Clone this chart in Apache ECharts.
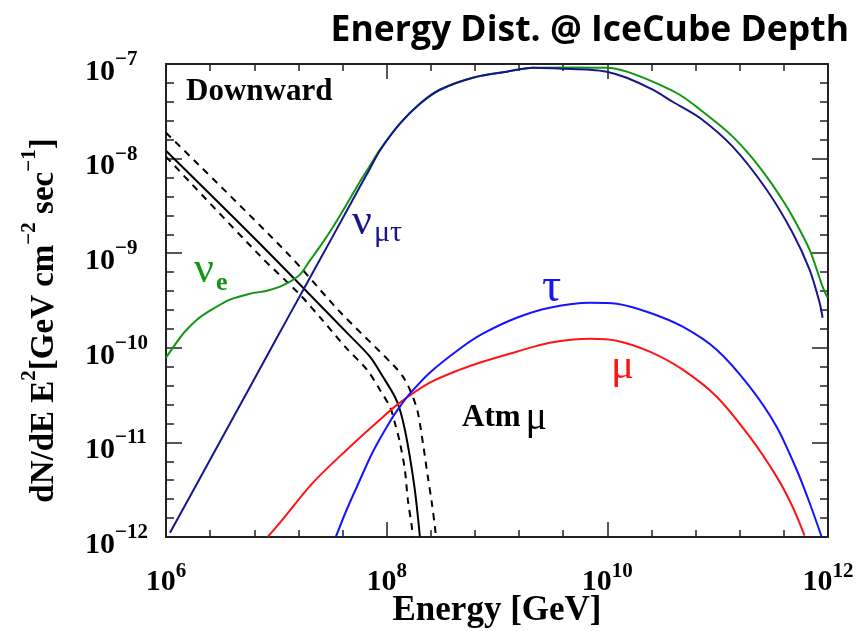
<!DOCTYPE html>
<html>
<head>
<meta charset="utf-8">
<script src="https://cdn.jsdelivr.net/npm/echarts@6/dist/echarts.min.js"></script>
<style>
  html, body { margin: 0; padding: 0; background: #fff; }
  #chart { width: 861px; height: 631px; }
</style>
</head>
<body>
<div id="chart"></div>
<script>
// Energy spectra E^2 dN/dE at IceCube depth (downward-going), log10 units.
// x: log10(Energy / GeV), y: log10(flux / GeV cm^-2 s^-1)

// nu_e
const nueLogE = [6.000, 6.082, 6.172, 6.281, 6.399, 6.580, 6.761, 6.915, 7.033, 7.123, 7.214, 7.304, 7.395, 7.486, 7.576, 7.667, 7.757, 7.848, 7.938, 8.120, 8.301, 8.482, 8.781, 9.089, 9.324, 9.687, 9.995, 10.176, 10.411, 10.656, 10.819, 11.000, 11.136, 11.290, 11.444, 11.589, 11.679, 11.833, 11.951, 11.996];
const nueLogFlux = [-10.104, -9.966, -9.828, -9.703, -9.608, -9.491, -9.428, -9.396, -9.354, -9.301, -9.227, -9.079, -8.931, -8.773, -8.604, -8.424, -8.244, -8.075, -7.906, -7.631, -7.420, -7.272, -7.145, -7.081, -7.039, -7.036, -7.039, -7.081, -7.187, -7.325, -7.462, -7.630, -7.768, -7.960, -8.191, -8.440, -8.614, -8.963, -9.354, -9.470];

// nu_mu + nu_tau
const numutauLogE = [6.036, 6.500, 7.000, 7.241, 7.500, 7.757, 7.848, 7.938, 8.120, 8.301, 8.482, 8.781, 9.089, 9.324, 9.596, 9.841, 9.995, 10.176, 10.411, 10.592, 10.837, 11.136, 11.444, 11.679, 11.833, 11.924, 11.951];
const numutauLogFlux = [-11.955, -10.970, -9.905, -9.394, -8.846, -8.297, -8.107, -7.917, -7.631, -7.420, -7.272, -7.145, -7.081, -7.039, -7.050, -7.060, -7.081, -7.145, -7.272, -7.399, -7.568, -7.874, -8.329, -8.783, -9.174, -9.523, -9.682];

// tau
const tauLogE = [7.540, 7.630, 7.730, 7.875, 8.029, 8.120, 8.210, 8.391, 8.663, 8.871, 9.179, 9.478, 9.841, 10.085, 10.384, 10.683, 10.991, 11.290, 11.534, 11.716, 11.833, 11.942];
const tauLogFlux = [-11.997, -11.733, -11.469, -11.099, -10.781, -10.622, -10.485, -10.263, -10.010, -9.851, -9.682, -9.576, -9.523, -9.534, -9.629, -9.777, -10.020, -10.411, -10.834, -11.289, -11.638, -11.997];

// mu
const muLogE = [6.924, 7.033, 7.332, 7.639, 7.938, 8.120, 8.391, 8.663, 8.871, 9.179, 9.478, 9.841, 10.085, 10.384, 10.683, 10.991, 11.290, 11.534, 11.679, 11.788];
const muLogFlux = [-11.997, -11.849, -11.426, -11.077, -10.760, -10.580, -10.369, -10.231, -10.147, -10.041, -9.946, -9.904, -9.925, -10.041, -10.231, -10.517, -10.940, -11.362, -11.680, -11.986];

// atmospheric muons: central estimate and upper/lower bands
const atmLogE = [6.000, 6.851, 7.639, 7.848, 7.966, 8.074, 8.120, 8.165, 8.210, 8.255, 8.283, 8.301];
const atmLogFlux = [-7.917, -8.900, -9.840, -10.094, -10.306, -10.517, -10.654, -10.866, -11.151, -11.500, -11.786, -11.997];
const atmHiLogE = [6.000, 7.096, 7.576, 8.074, 8.165, 8.237, 8.283, 8.328, 8.373, 8.409, 8.437, 8.446];
const atmHiLogFlux = [-7.726, -8.995, -9.619, -10.200, -10.337, -10.517, -10.686, -11.003, -11.362, -11.637, -11.891, -11.997];
const atmLoLogE = [6.000, 6.851, 7.214, 7.422, 7.639, 7.821, 7.938, 8.029, 8.074, 8.120, 8.165, 8.192, 8.228, 8.237];
const atmLoLogFlux = [-7.980, -9.026, -9.438, -9.713, -10.009, -10.231, -10.443, -10.623, -10.792, -11.003, -11.289, -11.606, -11.891, -11.997];

// axis ranges (decades)
const xDecades = [6, 12];
const yDecades = [-12, -7];

const SERIF = '"Liberation Serif", "Times New Roman", serif';

function zip(xs, ys) { return xs.map((x, i) => [x, ys[i]]); }
function powLabel(v) {
  const exp = v < 0 ? '\u2212' + (-v) : String(v);
  return '{b|10}{s|' + exp + '}';
}
function labelRich(size, sup, pad) {
  return {
    b: { fontFamily: SERIF, fontWeight: 'bold', fontSize: size, lineHeight: size, padding: [pad, 0, 0, 0], color: '#000' },
    s: { fontFamily: SERIF, fontWeight: 'bold', fontSize: sup, lineHeight: sup, verticalAlign: 'top', color: '#000' }
  };
}
const frameLine = { show: true, lineStyle: { color: '#222', width: 2 } };
const tickStyle = { color: '#222', width: 1.5 };

function lineSeries(xs, ys, color, dashed) {
  return {
    type: 'line', data: zip(xs, ys), showSymbol: false, smooth: 0.3,
    lineStyle: { color: color, width: 2, type: dashed ? [7, 6] : 'solid' },
    xAxisIndex: 0, yAxisIndex: 0, silent: true, animation: false, clip: true
  };
}

const chart = echarts.init(document.getElementById('chart'), null, { renderer: 'canvas' });
chart.setOption({
  backgroundColor: '#fff',
  animation: false,
  title: {
    text: 'Energy Dist. @ IceCube Depth',
    right: 7, top: 8,
    textStyle: { fontFamily: '"Open Sans", sans-serif', fontWeight: 'bold', fontSize: 35.5, color: '#000' }
  },
  grid: { left: 166, right: 33, top: 64, bottom: 94, containLabel: false, outerBoundsMode: 'none' },
  xAxis: [{
    type: 'value', min: xDecades[0], max: xDecades[1], interval: 2, position: 'bottom',
    axisLine: frameLine,
    axisTick: { show: true, inside: true, length: 15, lineStyle: tickStyle },
    minorTick: { show: true, splitNumber: 5, length: 7, lineStyle: tickStyle },
    splitLine: { show: false },
    axisLabel: { formatter: powLabel, rich: labelRich(30, 21, 13), margin: 24 },
    name: 'Energy [GeV]', nameLocation: 'middle', nameGap: 56, nameMoveOverlap: false,
    nameTextStyle: { fontFamily: SERIF, fontWeight: 'bold', fontSize: 35, lineHeight: 35, color: '#000' }
  }, {
    type: 'value', min: xDecades[0], max: xDecades[1], interval: 2, position: 'top',
    axisLine: frameLine,
    axisTick: { show: true, inside: true, length: 15, lineStyle: tickStyle },
    minorTick: { show: true, splitNumber: 5, length: 7, lineStyle: tickStyle },
    splitLine: { show: false }, axisLabel: { show: false }
  }],
  yAxis: [{
    type: 'value', min: yDecades[0], max: yDecades[1], interval: 1, position: 'left',
    axisLine: frameLine,
    axisTick: { show: true, inside: true, length: 16, lineStyle: tickStyle },
    minorTick: { show: true, splitNumber: 5, length: 8, lineStyle: tickStyle },
    splitLine: { show: false },
    axisLabel: { formatter: powLabel, rich: labelRich(30, 21, 16), margin: 81, align: 'left' },
    name: '{m|dN/dE E}{s|2}{m|[GeV cm}{s|\u22122}{m| sec}{s|\u22121}{m|]}',
    nameLocation: 'middle', nameGap: 114, nameRotate: 90, nameMoveOverlap: false,
    nameTextStyle: {
      padding: [0, 40, 0, 0],
      rich: {
        m: { fontFamily: SERIF, fontWeight: 'bold', fontSize: 33, lineHeight: 33, padding: [18, 0, 0, 0], color: '#000' },
        s: { fontFamily: SERIF, fontWeight: 'bold', fontSize: 21, lineHeight: 21, verticalAlign: 'top', color: '#000' }
      }
    }
  }, {
    type: 'value', min: yDecades[0], max: yDecades[1], interval: 1, position: 'right',
    axisLine: frameLine,
    axisTick: { show: true, inside: true, length: 16, lineStyle: tickStyle },
    minorTick: { show: true, splitNumber: 5, length: 8, lineStyle: tickStyle },
    splitLine: { show: false }, axisLabel: { show: false }
  }],
  series: [
    lineSeries(atmHiLogE, atmHiLogFlux, '#000', true),
    lineSeries(atmLoLogE, atmLoLogFlux, '#000', true),
    lineSeries(atmLogE, atmLogFlux, '#000', false),
    lineSeries(muLogE, muLogFlux, '#ff1414', false),
    lineSeries(tauLogE, tauLogFlux, '#1414ff', false),
    lineSeries(nueLogE, nueLogFlux, '#129612', false),
    lineSeries(numutauLogE, numutauLogFlux, '#16168c', false)
  ],
  graphic: [
    { type: 'text', left: 186, top: 76, silent: true,
      style: { text: 'Downward', font: 'bold 31px ' + SERIF, fill: '#000' } },
    { type: 'text', left: 194, top: 248, silent: true,
      style: { text: '{n|\u03bd}{e|e}', fill: '#129612',
        rich: { n: { font: '44px ' + SERIF, fill: '#129612', lineHeight: 44, padding: [0, 0, 8, 0] },
                e: { font: 'bold 26px ' + SERIF, fill: '#129612', lineHeight: 26, verticalAlign: 'bottom', padding: [0, 0, 0, 2] } } } },
    { type: 'text', left: 352, top: 200, silent: true,
      style: { text: '{n|\u03bd}{e|\u03bc\u03c4}', fill: '#16168c',
        rich: { n: { font: '44px ' + SERIF, fill: '#16168c', lineHeight: 44, padding: [0, 0, 8, 0] },
                e: { font: '30px ' + SERIF, fill: '#16168c', lineHeight: 30, verticalAlign: 'bottom', padding: [0, 0, 0, 2] } } } },
    { type: 'text', left: 542, top: 264, silent: true,
      style: { text: '\u03c4', font: '48px ' + SERIF, fill: '#1414ff' } },
    { type: 'text', left: 611, top: 345, silent: true,
      style: { text: '\u03bc', font: '43px ' + SERIF, fill: '#ff1414' } },
    { type: 'text', left: 462, top: 398, silent: true,
      style: { text: '{a|Atm}{m|\u03bc}', fill: '#000',
        rich: { a: { font: 'bold 31px ' + SERIF, fill: '#000' },
                m: { font: '40px ' + SERIF, fill: '#000', padding: [0, 0, 0, 5] } } } }
  ]
});
</script>
</body>
</html>
